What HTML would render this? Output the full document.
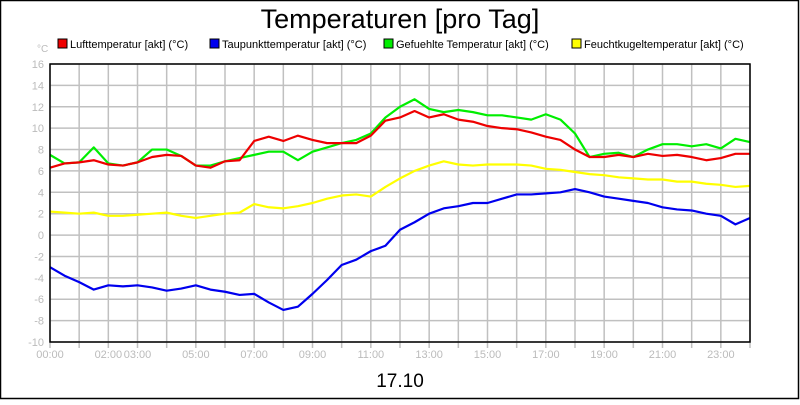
<!DOCTYPE html>
<html><head><meta charset="utf-8"><style>
body{margin:0;background:#fff}
svg text{font-family:"Liberation Sans",sans-serif}
</style></head><body>
<svg width="800" height="400" xmlns="http://www.w3.org/2000/svg">
<rect x="0.5" y="0.5" width="798" height="398" fill="#fff" stroke="#000" stroke-width="1.5"/>
<text x="400" y="28" font-size="27" text-anchor="middle">Temperaturen [pro Tag]</text>
<text x="400" y="387" font-size="19" text-anchor="middle">17.10</text>
<text x="37" y="52" font-size="10" fill="#bbb">°C</text>
<g id="legend"></g>
<g id="grid"></g>
<g id="series"></g>
<rect x="50" y="64" width="700" height="278" fill="none" stroke="#000" stroke-width="1.5"/>
</svg>
<script>
const hours=[0,0.5,1,1.5,2,2.5,3,3.5,4,4.5,5,5.5,6,6.5,7,7.5,8,8.5,9,9.5,10,10.5,11,11.5,12,12.5,13,13.5,14,14.5,15,15.5,16,16.5,17,17.5,18,18.5,19,19.5,20,20.5,21,21.5,22,22.5,23,23.5,24];
const luft=[6.3,6.7,6.8,7.0,6.6,6.5,6.8,7.3,7.5,7.4,6.5,6.3,6.9,7.0,8.8,9.2,8.8,9.3,8.9,8.6,8.6,8.6,9.3,10.7,11.0,11.6,11.0,11.3,10.8,10.6,10.2,10.0,9.9,9.6,9.2,8.9,8.0,7.3,7.3,7.5,7.3,7.6,7.4,7.5,7.3,7.0,7.2,7.6,7.6];
const taupunkt=[-3.0,-3.8,-4.4,-5.1,-4.7,-4.8,-4.7,-4.9,-5.2,-5.0,-4.7,-5.1,-5.3,-5.6,-5.5,-6.3,-7.0,-6.7,-5.5,-4.2,-2.8,-2.3,-1.5,-1.0,0.5,1.2,2.0,2.5,2.7,3.0,3.0,3.4,3.8,3.8,3.9,4.0,4.3,4.0,3.6,3.4,3.2,3.0,2.6,2.4,2.3,2.0,1.8,1.0,1.6];
const gefuehlt=[7.5,6.7,6.8,8.2,6.7,6.5,6.8,8.0,8.0,7.4,6.5,6.5,6.9,7.2,7.5,7.8,7.8,7.0,7.8,8.2,8.6,8.9,9.5,11.0,12.0,12.7,11.8,11.5,11.7,11.5,11.2,11.2,11.0,10.8,11.3,10.8,9.5,7.3,7.6,7.7,7.3,8.0,8.5,8.5,8.3,8.5,8.1,9.0,8.7];
const feucht=[2.2,2.1,2.0,2.1,1.8,1.8,1.9,2.0,2.1,1.8,1.6,1.8,2.0,2.1,2.9,2.6,2.5,2.7,3.0,3.4,3.7,3.8,3.6,4.5,5.3,6.0,6.5,6.9,6.6,6.5,6.6,6.6,6.6,6.5,6.2,6.1,5.9,5.7,5.6,5.4,5.3,5.2,5.2,5.0,5.0,4.8,4.7,4.5,4.6];
const yTicks=[16,14,12,10,8,6,4,2,0,-2,-4,-6,-8,-10];
const xLabels=["00:00","02:00","03:00","05:00","07:00","09:00","11:00","13:00","15:00","17:00","19:00","21:00","23:00"];
const xLabelHours=[0,2,3,5,7,9,11,13,15,17,19,21,23];
const names=["Lufttemperatur [akt] (°C)","Taupunkttemperatur [akt] (°C)","Gefuehlte Temperatur [akt] (°C)","Feuchtkugeltemperatur [akt] (°C)"];
const NS="http://www.w3.org/2000/svg";
const X=h=>50+h*700/24, Y=v=>342-(v+10)*278/26;
function mk(t,a,p){const e=document.createElementNS(NS,t);for(const k in a)e.setAttribute(k,a[k]);p.appendChild(e);return e;}
const grid=document.getElementById('grid');
yTicks.forEach(v=>{
 const l=mk('line',{x1:50,x2:750,y1:Y(v),y2:Y(v),stroke:'#c0c0c0','stroke-width':1.5},grid);
 
 
 const t=mk('text',{x:44,y:Y(v)+4,'font-size':11,fill:'#bbb','text-anchor':'end'},grid);t.textContent=v;
 
 
});
for(let h=0;h<=24;h++){
 const l=mk('line',{x1:X(h),x2:X(h),y1:64,y2:348,stroke:'#c0c0c0','stroke-width':1.5},grid);
 
 
}
xLabels.forEach((s,i)=>{
 const t=mk('text',{x:X(xLabelHours[i]),y:358,'font-size':11,fill:'#bbb','text-anchor':'middle'},grid);t.textContent=s;
 
 
});
const ser=document.getElementById('series');
[[feucht,'#ffff00','feuchtkugel-line'],[taupunkt,'#0000ee','taupunkt-line'],[gefuehlt,'#00ee00','gefuehlt-line'],[luft,'#ee0000','luft-line']].forEach(([d,c,n])=>{
 const p=mk('polyline',{points:d.map((v,i)=>X(hours[i])+','+Y(v)).join(' '),fill:'none',stroke:c,'stroke-width':2.2,'stroke-linejoin':'round'},ser);
 
 
});
const leg=document.getElementById('legend');
const lx=[58,210,384,572],cols=['#ee0000','#0000ee','#00ee00','#ffff00'];
names.forEach((s,i)=>{
 const r=mk('rect',{x:lx[i],y:39,width:9,height:9,fill:cols[i],stroke:'#000','stroke-width':1},leg);
 
 
 const t=mk('text',{x:lx[i]+12,y:48,'font-size':11},leg);t.textContent=s;
 
 
});
</script>
</body></html>
